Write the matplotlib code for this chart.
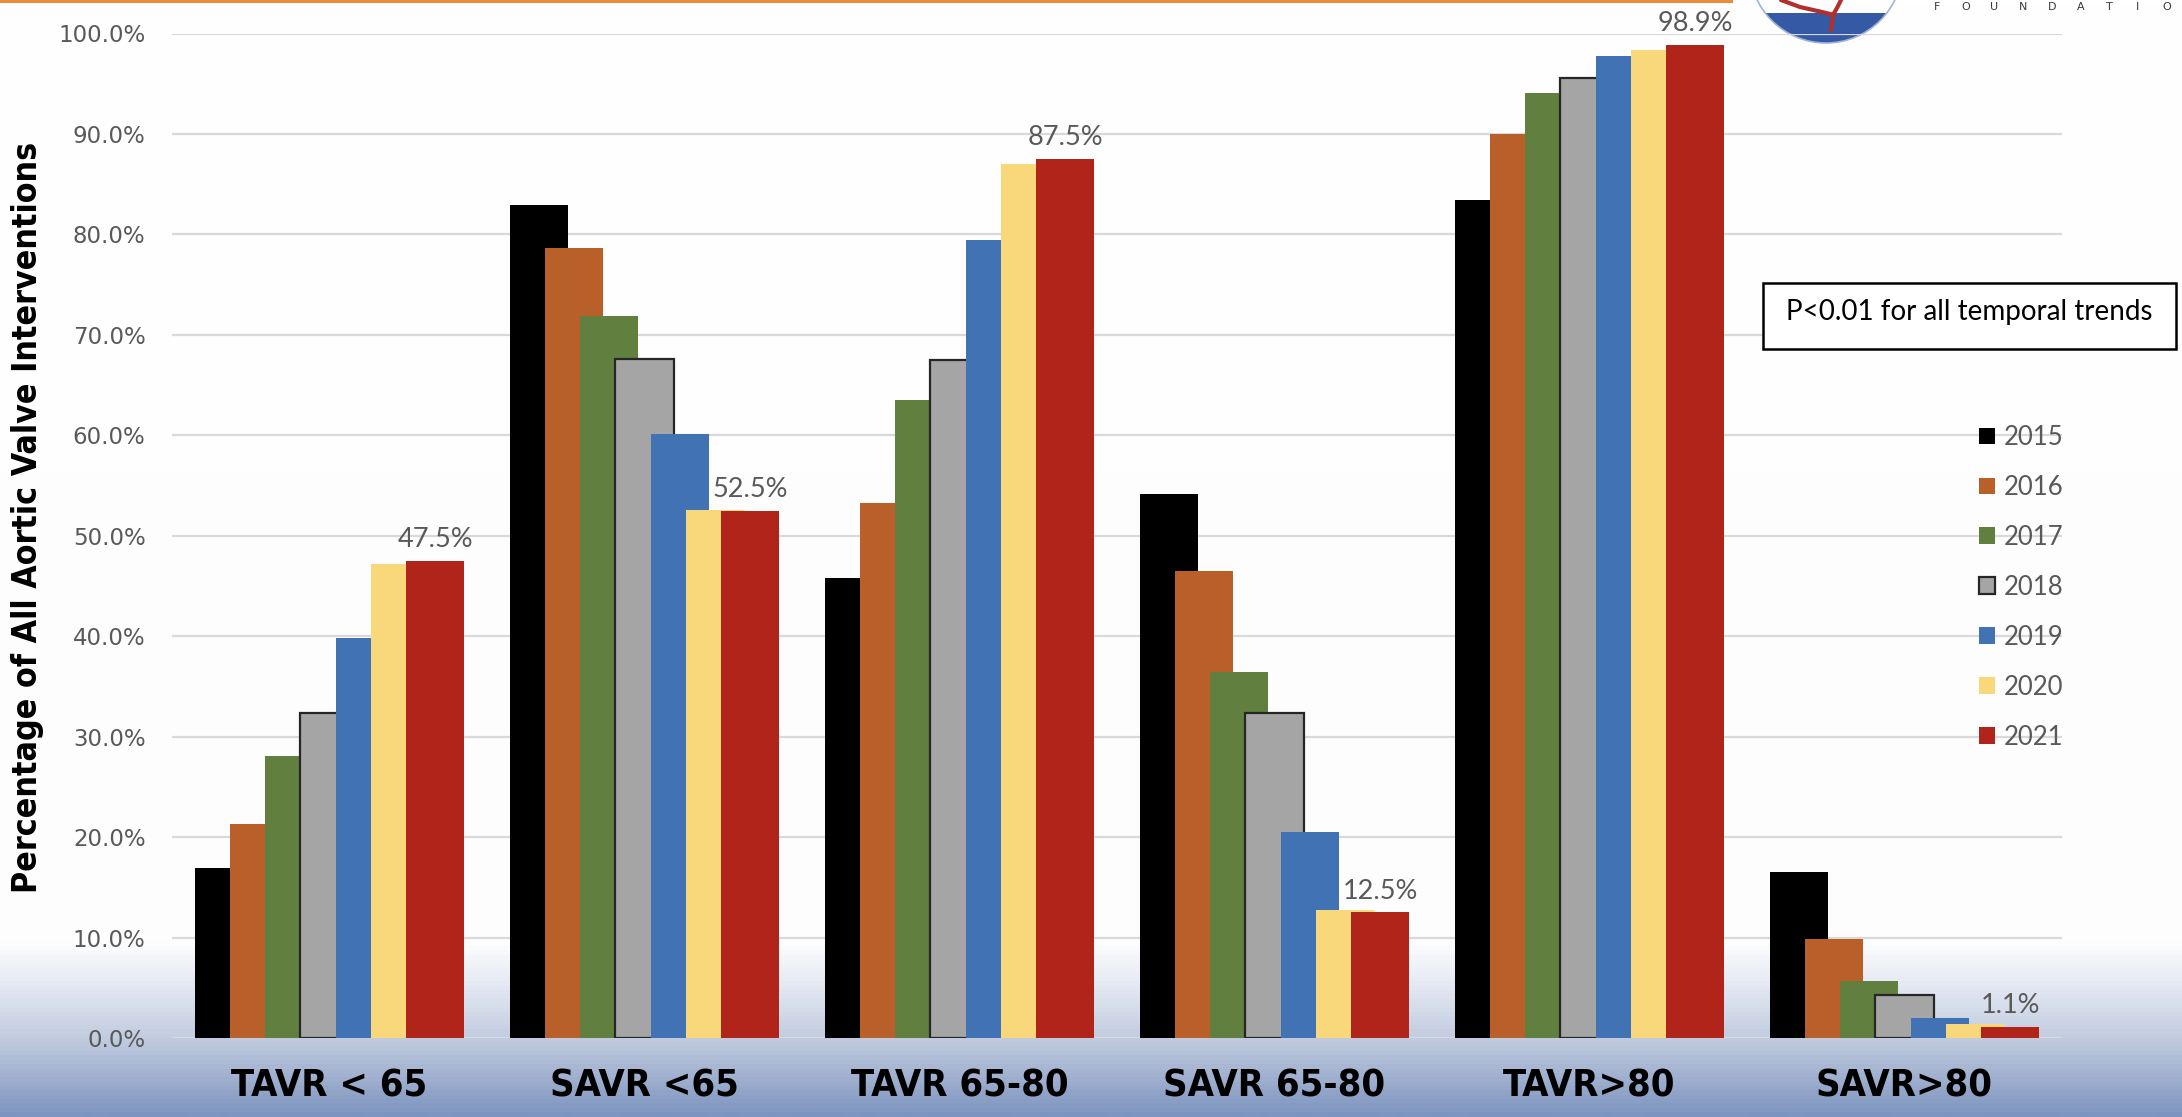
import numpy as np
import matplotlib
matplotlib.use("Agg")
import matplotlib.pyplot as plt
from matplotlib.patches import Rectangle, Circle
from matplotlib.colors import LinearSegmentedColormap

# ---- data -------------------------------------------------------------
categories = ["TAVR < 65", "SAVR <65", "TAVR 65-80", "SAVR 65-80", "TAVR>80", "SAVR>80"]
years = ["2015", "2016", "2017", "2018", "2019", "2020", "2021"]

share_2015 = [16.9, 82.9, 45.8, 54.2, 83.4, 16.5]
share_2016 = [21.3, 78.6, 53.3, 46.5, 90.0, 9.9]
share_2017 = [28.1, 71.9, 63.5, 36.4, 94.1, 5.7]
share_2018 = [32.4, 67.6, 67.5, 32.4, 95.6, 4.3]
share_2019 = [39.8, 60.1, 79.4, 20.5, 97.8, 2.0]
share_2020 = [47.2, 52.6, 87.0, 12.7, 98.4, 1.4]
share_2021 = [47.5, 52.5, 87.5, 12.5, 98.9, 1.1]

series = [share_2015, share_2016, share_2017, share_2018,
          share_2019, share_2020, share_2021]
colors = ["#000000", "#b9602a", "#61803f", "#a5a5a5", "#4173b4", "#f8d87a", "#b0241a"]
edges = [None, None, None, "#262626", None, None, None]

y_ticks = np.arange(0, 101, 10)
note = "P<0.01 for all temporal trends"
y_title = "Percentage of All Aortic Valve Interventions"

# ---- figure -----------------------------------------------------------
W, H = 2182, 1117
fig = plt.figure(figsize=(W / 100, H / 100), dpi=100)

# backdrop: white fading into a blue band at the bottom, plus the logo
bg = fig.add_axes([0, 0, 1, 1], zorder=-2)
bg.set_axis_off()
stops = [(0.0, "#ffffff"), (945 / H, "#fdfdfe"), (992 / H, "#e1e6f1"),
         (1040 / H, "#c2cce0"), (1080 / H, "#a0b0cf"), (1.0, "#7d95bf")]
cmap = LinearSegmentedColormap.from_list("backdrop", stops)
grad = np.linspace(0, 1, H).reshape(-1, 1)
bg.imshow(grad, aspect="auto", cmap=cmap, extent=[0, W, H, 0], interpolation="bilinear")
bg.set_xlim(0, W)
bg.set_ylim(H, 0)

bg.add_patch(Rectangle((0, 0), 1733, 2.5, color="#e98a3c", lw=0))
logo_c, logo_r = (1826, -33.6), 76.6
band = Circle(logo_c, logo_r, facecolor="#3659a6", edgecolor="none")
bg.add_patch(band)
band.set_clip_path(Rectangle((0, 12.7), W, 200, transform=bg.transData))
bg.add_patch(Circle(logo_c, logo_r, facecolor="none", edgecolor="#9fb2d8", lw=1.2))
bg.plot([1781, 1800, 1822, 1834], [0, 7, 12, 15], color="#b0302c", lw=3, solid_capstyle="round")
bg.plot([1841, 1837, 1833, 1831], [0, 8, 15, 30], color="#b0302c", lw=3, solid_capstyle="round")
for i, ch in enumerate("FOUNDATIO"):
    bg.text(1937 + i * 28.7, 10, ch, ha="center", va="baseline", fontsize=8,
            family="DejaVu Sans", color="#3a3a3a")

# ---- main chart -------------------------------------------------------
ax = fig.add_axes([172 / W, 79 / H, (2062 - 172) / W, (1038 - 33.5) / H])
ax.set_facecolor("none")

x = np.arange(len(categories))
step, width = 0.112, 0.185
span = step * (len(years) - 1) + width
for k, (yr, vals, col, ec) in enumerate(zip(years, series, colors, edges)):
    ax.bar(x - span / 2 + width / 2 + k * step, vals, width=width, color=col,
           edgecolor=ec if ec else col, linewidth=1.6 if ec else 0,
           label=yr, zorder=3 + k)

# value labels on the latest year
last_x = x + span / 2 - width / 2
for xi, v in zip(last_x, share_2021):
    ax.annotate(f"{v:.1f}%", (xi, v), xytext=(0, 10), textcoords="offset points",
                ha="center", va="baseline", fontsize=19.5, family="Lato",
                color="#595959", zorder=20, annotation_clip=False)

ax.set_xlim(-0.5, len(categories) - 0.5)
ax.set_ylim(0, 100)
ax.set_yticks(y_ticks)
ax.yaxis.set_major_formatter(lambda v, p: f"{v:.1f}%")
ax.set_xticks(x)
ax.set_xticklabels(categories)
ax.grid(axis="y", color="#d9d9d9", linewidth=1.6, zorder=0)
ax.set_axisbelow(True)
for s in ax.spines.values():
    s.set_visible(False)
ax.tick_params(axis="y", length=0, pad=19, labelsize=16.5, labelcolor="#595959")
ax.tick_params(axis="x", length=0, pad=22)
for lab in ax.get_xticklabels():
    lab.set_fontsize(27.3)
    lab.set_fontweight("bold")
    lab.set_fontstretch("condensed")
    lab.set_color("black")

fig.text(28 / W, 1 - 517 / H, y_title, rotation=90, ha="center", va="center",
         fontsize=24.3, fontweight="bold", fontstretch="condensed", color="black")

leg = ax.legend(loc="upper left", bbox_to_anchor=(1979 / W, 1 - 425 / H),
                bbox_transform=fig.transFigure, frameon=False,
                prop={"family": "Lato", "size": 18.5}, labelcolor="#595959",
                handlelength=0.62, handleheight=0.62, handletextpad=0.35,
                labelspacing=0.97, borderpad=0, borderaxespad=0)

# ---- note box ---------------------------------------------------------
fg = fig.add_axes([0, 0, 1, 1], zorder=10)
fg.set_axis_off()
fg.patch.set_alpha(0)
fg.set_xlim(0, W)
fg.set_ylim(H, 0)
fg.add_patch(Rectangle((1763, 283), 413, 66, facecolor="white", edgecolor="black", lw=1.8))
fg.text((1763 + 2176) / 2, 312, note, ha="center", va="center", fontsize=20,
        family="Lato", color="black")

fig.savefig("out.png", dpi=100)
